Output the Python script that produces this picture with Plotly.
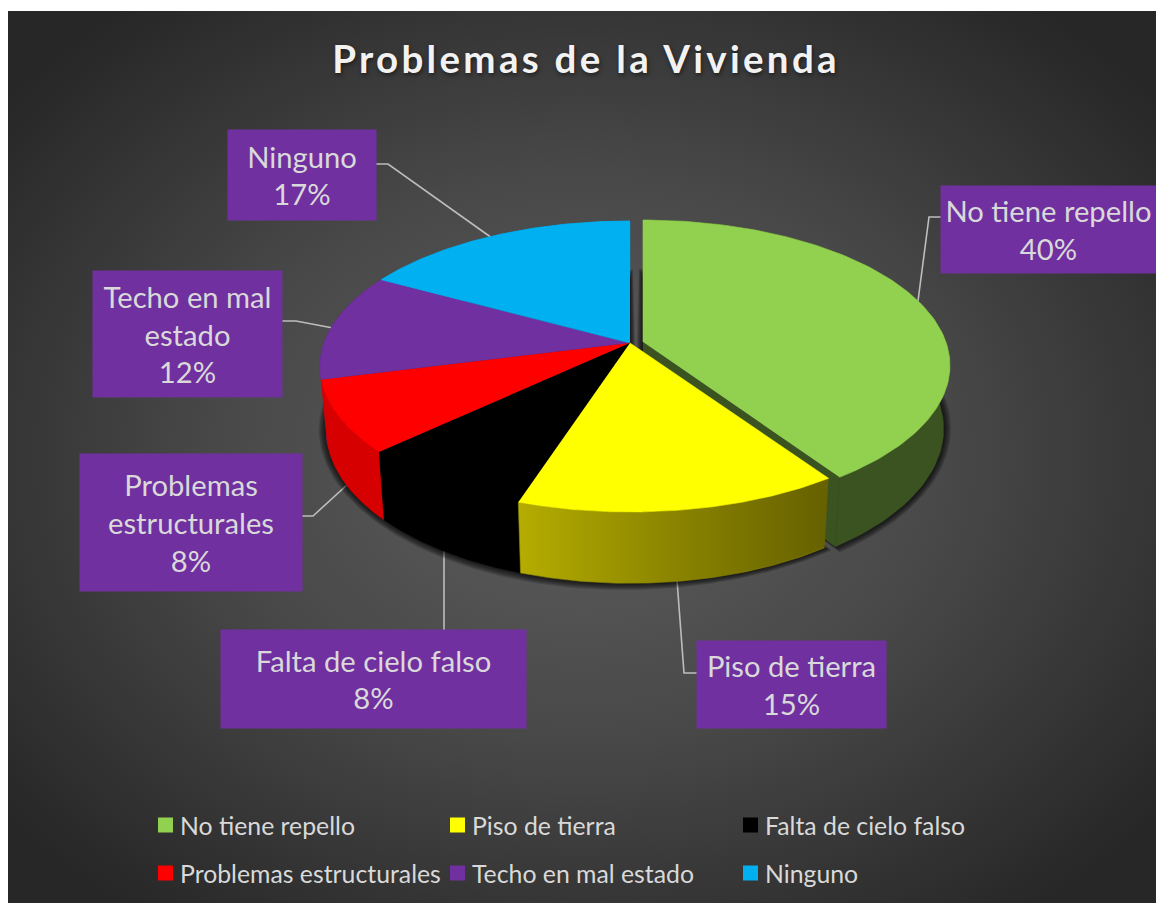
import numpy as np
import plotly.graph_objects as go
from urllib.parse import quote

# ---- data ----
TITLE = "Problemas de la Vivienda"
categories = ["No tiene repello", "Piso de tierra", "Falta de cielo falso",
              "Problemas estructurales", "Techo en mal estado", "Ninguno"]
values = [40.5, 14.5, 8.0, 8.0, 12.0, 17.0]
percent_labels = ["40%", "15%", "8%", "8%", "12%", "17%"]
label_names = ["No tiene repello", "Piso de tierra", "Falta de cielo falso",
               "Problemas<br>estructurales", "Techo en mal<br>estado", "Ninguno"]
top_colors = ["#92D050", "#FFFF00", "#000000", "#FF0000", "#7030A0", "#00B0F0"]
side_colors = ["#3A5320", "#8C8600", "#000000", "#D60000", "#5A2680", "#0090C4"]

# label boxes (x0, x1, y0, y1) in picture pixels
label_boxes = [(941, 1156, 186, 273), (697, 886, 641, 728), (221, 526, 630, 728),
               (80, 302, 454, 591), (93, 282, 271, 397), (228, 376, 130, 220)]
leader_x = [[941, 929, 918], [697, 684, 677], [444, 444], [302, 313, 348], [282, 296, 333], [376, 388, 492]]
leader_y = [[217, 217, 301], [673, 673, 580], [630, 549], [516, 516, 484], [321, 321, 328], [164, 164, 238]]
legend_x = [158, 450, 743, 158, 450, 743]
legend_y = [825, 825, 825, 873, 873, 873]

# ---- perspective geometry of the 3-D pie ----
CX, CY, RAD, H, K = 630.0, 343.0, 306.0, 141.7, 0.1615
GX, GY, GS = 643.0, 342.0, 0.99
PURPLE = "#7030A0"
TEXT = "#D9D9D9"
FONT = "Lato, Carlito, Calibri, sans-serif"


def top_pts(theta, cx=CX, cy=CY, rs=1.0):
    t = np.radians(theta)
    u, v = np.sin(t), np.cos(t)
    s = 1 / (1 + K * v)
    return cx + RAD * rs * u * s, cy - H * v * s


def lower(x, y):
    return CX + 0.98 * (x - CX), y + 62 + 0.055 * (y - CY)


cum = np.concatenate([[0], np.cumsum(values)]) / sum(values) * 360
fig = go.Figure()


def poly(x, y, color, name, lw=0.6, **kw):
    fig.add_trace(go.Scatter(x=list(x), y=list(y), mode="lines", fill="toself",
                             fillcolor=color, line=dict(width=lw, color=color),
                             hoverinfo="skip", showlegend=False, name=name, **kw))


# leader lines
for i, c in enumerate(categories):
    fig.add_trace(go.Scatter(x=leader_x[i], y=leader_y[i], mode="lines",
                             line=dict(color="#BDBDBD", width=1.6),
                             hoverinfo="skip", showlegend=False, name="leader " + c))

# soft shadow under the pie
gt = np.linspace(cum[0], cum[1], 120)
gx, gy = top_pts(gt, GX, GY, GS)
gx, gy = lower(np.r_[GX, gx], np.r_[GY, gy])
rt = np.linspace(cum[1], cum[-1], 200)
mx, my = top_pts(rt)
mx, my = lower(np.r_[CX, mx], np.r_[CY, my])
for grow in (7.5, 6.5, 5.5, 4.5, 3.5, 2.5, 1.5):
    for (px, py, ax, ay) in ((gx, gy, 740, 430), (mx, my, 560, 440)):
        dx, dy = px - ax, py - ay
        d = np.hypot(dx, dy)
        poly(ax + dx * (1 + grow / d), ay + dy * (1 + grow / d), "rgba(0,0,0,0.13)", "shadow", lw=0)

# walls: green cut face, then the outer rims
ex, ey = top_pts(cum[1], GX, GY, GS)
wx, wy = lower(np.array([GX, ex]), np.array([GY, ey]))
poly([GX, ex, wx[1], wx[0]], [GY, ey, wy[1], wy[0]], side_colors[0], "green cut face")

order = [4, 5, 3, 2, 0, 1]
for i in order:
    th = np.linspace(cum[i], cum[i + 1], 90)
    if i == 0:
        x, y = top_pts(th, GX, GY, GS)
    else:
        x, y = top_pts(th)
    bx, by = lower(x, y)
    kw = {}
    if i == 1:
        kw["fillgradient"] = dict(type="horizontal",
                                  colorscale=[[0, "#B5AD00"], [0.5, "#8A8400"], [1, "#666000"]])
    poly(np.r_[x, bx[::-1]], np.r_[y, by[::-1]], side_colors[i], categories[i] + " wall", **kw)

# top faces
for i in order:
    th = np.linspace(cum[i], cum[i + 1], 120)
    if i == 0:
        x, y = top_pts(th, GX, GY, GS)
        a, b = GX, GY
    else:
        x, y = top_pts(th)
        a, b = CX, CY
    poly(np.r_[a, x], np.r_[b, y], top_colors[i], categories[i])

# legend
for i, c in enumerate(categories):
    fig.add_trace(go.Scatter(x=[legend_x[i] + 7.5], y=[legend_y[i]], mode="markers",
                             marker=dict(symbol="square", size=15, color=top_colors[i]),
                             hoverinfo="skip", showlegend=False, name="legend " + c))

annotations = []
for i, c in enumerate(categories):
    annotations.append(dict(x=legend_x[i] + 20, y=legend_y[i], xref="x", yref="y", text=c,
                            showarrow=False, xanchor="left", yanchor="middle",
                            font=dict(family=FONT, size=24.8, color=TEXT)))
    x0, x1, y0, y1 = label_boxes[i]
    annotations.append(dict(x=(x0 + x1) / 2, y=(y0 + y1) / 2, xref="x", yref="y",
                            text=f"{label_names[i]}<br>{percent_labels[i]}",
                            showarrow=False, xanchor="center", yanchor="middle",
                            width=x1 - x0, height=y1 - y0, bgcolor=PURPLE, borderpad=0,
                            align="center", valign="middle",
                            font=dict(family=FONT, size=29.2, color=TEXT)))

svg = ('<svg xmlns="http://www.w3.org/2000/svg" width="1148" height="892">'
       '<defs><radialGradient id="g" cx="50%" cy="50%" r="64%">'
       '<stop offset="0" stop-color="#5E5E5E"/><stop offset="0.5" stop-color="#484848"/>'
       '<stop offset="1" stop-color="#272727"/>'
       '</radialGradient></defs><rect width="1148" height="892" fill="url(#g)"/></svg>')

fig.update_layout(
    width=1156, height=903, margin=dict(l=0, r=0, t=0, b=0),
    paper_bgcolor="#FFFFFF", plot_bgcolor="rgba(0,0,0,0)", showlegend=False,
    xaxis=dict(range=[0, 1156], visible=False, fixedrange=True),
    yaxis=dict(range=[903, 0], visible=False, fixedrange=True),
    title=dict(text=f"<b>{TITLE}</b>", x=586 / 1156, xanchor="center",
               y=1 - 60 / 903, yanchor="middle",
               font=dict(family=FONT, size=38.5, color="#F2F2F2",
                         shadow="1px 2px 4px rgba(0,0,0,0.5)")),
    annotations=annotations,
    images=[dict(source="data:image/svg+xml," + quote(svg), xref="x", yref="y",
                 x=8, y=11, sizex=1148, sizey=892, sizing="stretch", layer="below")],
)

post = """
document.body.style.margin='0';
document.documentElement.style.overflow='hidden';
var t=document.querySelector('.gtitle'); if(t){t.style.letterSpacing='3.3px';}
"""
fig.write_html("out.html", post_script=post, config={"displayModeBar": False})
